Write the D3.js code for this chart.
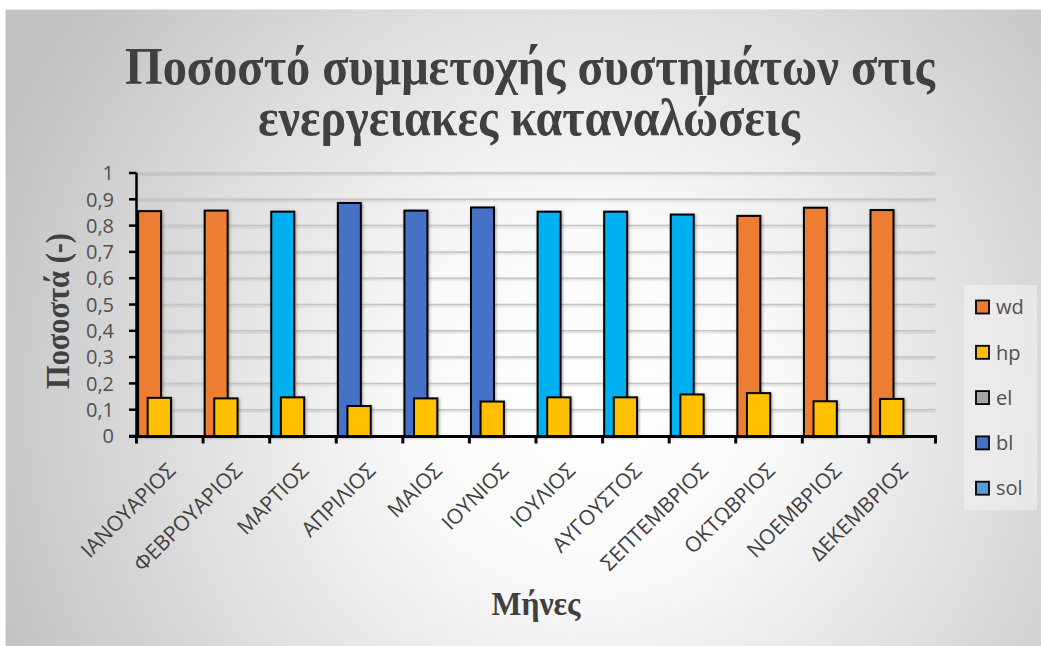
<!DOCTYPE html>
<html>
<head>
<meta charset="utf-8">
<script src="https://cdn.jsdelivr.net/npm/d3@7"></script>
<style>
  html, body { margin: 0; padding: 0; background: #ffffff; }
  svg { display: block; }
</style>
</head>
<body>
<svg id="chart" width="1041" height="646"></svg>
<script>
// Monthly share of each system in energy consumption
const months = ["ΙΑΝΟΥΑΡΙΟΣ", "ΦΕΒΡΟΥΑΡΙΟΣ", "ΜΑΡΤΙΟΣ", "ΑΠΡΙΛΙΟΣ", "ΜΑΙΟΣ", "ΙΟΥΝΙΟΣ",
                "ΙΟΥΛΙΟΣ", "ΑΥΓΟΥΣΤΟΣ", "ΣΕΠΤΕΜΒΡΙΟΣ", "ΟΚΤΩΒΡΙΟΣ", "ΝΟΕΜΒΡΙΟΣ", "ΔΕΚΕΜΒΡΙΟΣ"];
const wd  = [0.855, 0.857, 0, 0, 0, 0, 0, 0, 0, 0.837, 0.868, 0.859];
const hp  = [0.145, 0.143, 0.147, 0.114, 0.143, 0.131, 0.147, 0.147, 0.158, 0.163, 0.132, 0.141];
const el  = [0, 0, 0, 0, 0, 0, 0, 0, 0, 0, 0, 0];
const bl  = [0, 0, 0, 0.886, 0.857, 0.869, 0, 0, 0, 0, 0, 0];
const sol = [0, 0, 0.853, 0, 0, 0, 0.853, 0.853, 0.842, 0, 0, 0];
const yTicks = [0, 0.1, 0.2, 0.3, 0.4, 0.5, 0.6, 0.7, 0.8, 0.9, 1];
const seriesNames = ["wd", "hp", "el", "bl", "sol"];

const barColors    = { wd: "#ED7D31", hp: "#FFC000", el: "#A5A5A5", bl: "#4472C4", sol: "#00B0F0" };
const legendColors = { wd: "#ED7D31", hp: "#FFC000", el: "#A5A5A5", bl: "#4472C4", sol: "#5B9BD5" };

const svg = d3.select("#chart");
const defs = svg.append("defs");

// chart background: soft radial grey gradient
const grad = defs.append("radialGradient")
  .attr("id", "bg").attr("gradientUnits", "userSpaceOnUse")
  .attr("cx", 590).attr("cy", 400).attr("r", 640);
grad.append("stop").attr("offset", "0").attr("stop-color", "#ffffff");
grad.append("stop").attr("offset", "0.3").attr("stop-color", "#f9f9f9");
grad.append("stop").attr("offset", "1").attr("stop-color", "#c2c2c2");

const shadow = defs.append("filter").attr("id", "shadow")
  .attr("x", "-20%").attr("y", "-20%").attr("width", "140%").attr("height", "140%");
shadow.append("feDropShadow").attr("dx", 1).attr("dy", 1)
  .attr("stdDeviation", 1.5).attr("flood-color", "#000").attr("flood-opacity", 0.35);

const gshadow = defs.append("filter").attr("id", "gshadow")
  .attr("x", "-5%").attr("y", "-200%").attr("width", "110%").attr("height", "500%");
gshadow.append("feDropShadow").attr("dx", 0).attr("dy", 1)
  .attr("stdDeviation", 1).attr("flood-color", "#000").attr("flood-opacity", 0.2);

svg.append("rect")
  .attr("x", 5.5).attr("y", 9.5).attr("width", 1040).attr("height", 640)
  .attr("fill", "url(#bg)").attr("stroke", "#e6e6e6").attr("stroke-width", 1);

// scales
const x = d3.scaleBand().domain(months).range([136.5, 935.5]).padding(0);
const y = d3.scaleLinear().domain([0, 1]).range([436, 173]);
const bw = x.bandwidth();

// gridlines
svg.append("g").attr("filter", "url(#gshadow)")
  .selectAll("line").data(yTicks.filter(d => d > 0)).join("line")
  .attr("x1", 136.5).attr("x2", 935.5)
  .attr("y1", d => y(d)).attr("y2", d => y(d))
  .attr("stroke", "#c4c4c4").attr("stroke-width", 1.5);

// y axis labels
svg.append("g").selectAll("text").data(yTicks).join("text")
  .attr("x", 114).attr("y", d => y(d)).attr("dy", "0.36em")
  .attr("text-anchor", "end")
  .attr("font-family", "'Open Sans', sans-serif").attr("font-size", 20)
  .attr("fill", "#505050")
  .text(d => d3.format(".1~f")(d).replace(".", ","));

// bars: the month's main system bar and the hp bar beside it
const mainRows = months.map((m, i) => {
  const name = wd[i] > 0 ? "wd" : bl[i] > 0 ? "bl" : sol[i] > 0 ? "sol" : "el";
  const v = { wd: wd[i], bl: bl[i], sol: sol[i], el: el[i] }[name];
  return { m, name, v };
});
const bars = svg.append("g").attr("filter", "url(#shadow)");
bars.selectAll("rect.main").data(mainRows).join("rect").attr("class", "main")
  .attr("x", d => x(d.m) + 1.6).attr("width", bw * 0.345)
  .attr("y", d => y(d.v)).attr("height", d => y(0) - y(d.v))
  .attr("fill", d => barColors[d.name]).attr("stroke", "#000").attr("stroke-width", 2);
bars.selectAll("rect.hp").data(months.map((m, i) => ({ m, v: hp[i] }))).join("rect").attr("class", "hp")
  .attr("x", d => x(d.m) + bw * 0.168).attr("width", bw * 0.35)
  .attr("y", d => y(d.v)).attr("height", d => y(0) - y(d.v))
  .attr("fill", barColors.hp).attr("stroke", "#000").attr("stroke-width", 2);

// y axis line and ticks
const yAxis = svg.append("g");
yAxis.append("line").attr("x1", 136.5).attr("x2", 136.5).attr("y1", y(1)).attr("y2", y(0))
  .attr("stroke", "#000").attr("stroke-width", 2.5);
yAxis.selectAll("line.t").data(yTicks).join("line").attr("class", "t")
  .attr("x1", 129).attr("x2", 136.5).attr("y1", d => y(d)).attr("y2", d => y(d))
  .attr("stroke", "#000").attr("stroke-width", 2.5);

// x axis line and ticks
const xAxis = svg.append("g");
xAxis.append("line").attr("x1", 129).attr("x2", 937).attr("y1", 436.5).attr("y2", 436.5)
  .attr("stroke", "#000").attr("stroke-width", 3);
const bounds = months.map(m => x(m)).concat([x(months[months.length - 1]) + bw]);
xAxis.selectAll("line.t").data(bounds).join("line").attr("class", "t")
  .attr("x1", d => d).attr("x2", d => d).attr("y1", 436).attr("y2", 443.5)
  .attr("stroke", "#000").attr("stroke-width", 3);

// month labels, rotated
svg.append("g").selectAll("text").data(months).join("text")
  .attr("text-anchor", "end")
  .attr("transform", d => `translate(${x(d) + bw / 2 + 7},${472}) rotate(-45)`)
  .attr("font-family", "'Open Sans', sans-serif").attr("font-size", 21)
  .attr("fill", "#404040")
  .text(d => d);

// titles
const serif = "'Liberation Serif', 'Times New Roman', serif";
const title = svg.append("g").attr("font-family", serif).attr("font-weight", "bold")
  .attr("fill", "#404040").attr("text-anchor", "middle");
title.append("text").attr("x", 530).attr("y", 84).attr("font-size", 52)
  .attr("textLength", 810).attr("lengthAdjust", "spacingAndGlyphs")
  .text("Ποσοστό συμμετοχής συστημάτων στις");
title.append("text").attr("x", 529).attr("y", 135).attr("font-size", 52)
  .attr("textLength", 542).attr("lengthAdjust", "spacingAndGlyphs")
  .text("ενεργειακες καταναλώσεις");

svg.append("text").attr("x", 536).attr("y", 615)
  .attr("font-family", serif).attr("font-weight", "bold").attr("font-size", 33)
  .attr("fill", "#404040").attr("text-anchor", "middle")
  .attr("textLength", 89).attr("lengthAdjust", "spacingAndGlyphs")
  .text("Μήνες");

svg.append("text").attr("transform", "translate(69,311) rotate(-90)")
  .attr("font-family", serif).attr("font-weight", "bold").attr("font-size", 34)
  .attr("fill", "#404040").attr("text-anchor", "middle")
  .attr("textLength", 156).attr("lengthAdjust", "spacingAndGlyphs")
  .text("Ποσοστά (-)");

// legend
const legend = svg.append("g");
legend.append("rect").attr("x", 964).attr("y", 285).attr("width", 73).attr("height", 225)
  .attr("fill", "#f4f4f4").attr("fill-opacity", 0.55);
const items = legend.selectAll("g").data(seriesNames).join("g")
  .attr("transform", (d, i) => `translate(976,${307 + i * 45.3})`);
items.append("rect").attr("x", 0).attr("y", -6.5).attr("width", 13).attr("height", 13)
  .attr("fill", d => legendColors[d]).attr("stroke", "#000").attr("stroke-width", 1.8);
items.append("text").attr("x", 20).attr("y", 0).attr("dy", "0.36em")
  .attr("font-family", "'Open Sans', sans-serif").attr("font-size", 20)
  .attr("fill", "#505050").text(d => d);
</script>
</body>
</html>
